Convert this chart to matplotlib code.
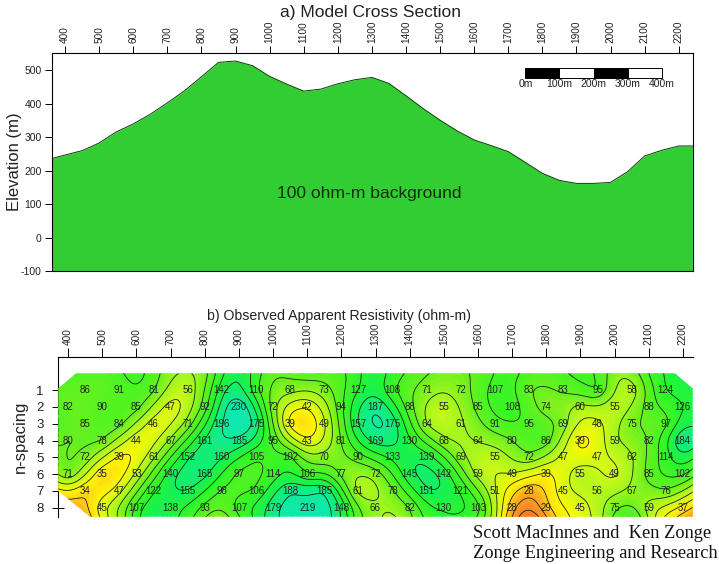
import numpy as np
import matplotlib
matplotlib.use('Agg')
import matplotlib.pyplot as plt
from matplotlib.colors import LinearSegmentedColormap
from matplotlib.patches import Polygon

plt.rcParams['font.family'] = ['Liberation Sans', 'DejaVu Sans']

W, H = 719, 564

# elevation profile
profile_x = [360, 400, 450, 500, 550, 600, 650, 700, 750, 800, 850, 900, 950, 1000, 1050, 1100, 1150,
             1200, 1250, 1300, 1350, 1400, 1450, 1500, 1550, 1600, 1650, 1700, 1750, 1800, 1850, 1900,
             1950, 2000, 2050, 2100, 2150, 2200, 2240]
profile_z = [236, 247, 260, 283, 316, 340, 369, 403, 439, 481, 524, 528, 514, 482, 459, 438, 444,
             460, 472, 479, 461, 424, 386, 351, 319, 292, 275, 257, 225, 192, 171, 162,
             162, 165, 197, 244, 261, 274, 274]

scale_edges = [0, 100, 200, 300, 400]
scale_labels = ['0m', '100m', '200m', '300m', '400m']

station_ticks = list(range(400, 2300, 100))
elev_ticks = [-100, 0, 100, 200, 300, 400, 500]
n_ticks = [1, 2, 3, 4, 5, 6, 7, 8]

# stations of the staggered pseudosection rows
x_even = list(range(400, 2250, 100))
x_odd = list(range(450, 2200, 100))

n1 = [86, 91, 81, 56, 142, 110, 68, 73, 127, 108, 71, 72, 107, 83, 83, 95, 58, 124]
n2 = [82, 90, 85, 47, 92, 230, 72, 42, 94, 187, 88, 55, 85, 108, 74, 60, 55, 88, 126]
n3 = [85, 84, 46, 71, 196, 175, 39, 49, 157, 175, 64, 61, 91, 95, 69, 48, 75, 97]
n4 = [80, 78, 44, 67, 161, 185, 95, 43, 81, 169, 130, 68, 64, 80, 86, 39, 59, 82, 184]
n5 = [72, 39, 61, 152, 160, 105, 102, 70, 90, 133, 139, 69, 55, 72, 47, 47, 62, 114]
n6 = [71, 35, 53, 140, 165, 97, 114, 106, 77, 72, 145, 142, 59, 49, 39, 55, 49, 85, 102]
n7 = [34, 47, 122, 155, 98, 106, 188, 185, 61, 78, 151, 121, 51, 28, 45, 56, 67, 76]
n8 = [45, 107, 138, 93, 107, 179, 219, 148, 66, 82, 130, 103, 28, 29, 45, 75, 59, 37]

# values past the labelled points, estimated from the colours at the section edges
top_edge = [95, 90, 105, 68, 75, 150, 85, 90, 95, 140, 95, 75, 85, 105, 90, 105, 70, 100, 140]
bottom_edge = [26, 65, 160, 105, 65, 130, 220, 220, 90, 60, 100, 110, 50, 15, 35, 55, 110, 35]
side_x = [350, 350, 350, 350, 350, 400, 350, 2250, 2250, 2250, 2250, 2250, 2250]
side_n = [0, 1, 3, 5, 7, 8, 9, 0, 1, 3, 5, 7, 9]
side_v = [100, 90, 100, 70, 35, 28, 25, 140, 140, 150, 115, 45, 20]

levels = [20, 25, 32, 40, 50, 63, 80, 100, 126, 158, 200, 251]
color_values = [15, 20, 28, 34, 40, 50, 63, 80, 100, 126, 158, 200, 251, 320]
color_list = ['#f06e1e', '#f58228', '#ffaa1e', '#ffe10f', '#fafa00', '#cdf819', '#a0f51e', '#69f01e',
              '#46f523', '#28f52d', '#14f05a', '#0feb96', '#0fe6b9', '#00e6d2']


def px_axes(left, top, right, bottom):
    return fig.add_axes([left / W, 1 - bottom / H, (right - left) / W, (bottom - top) / H])


def tps_kernel(r2):
    return 0.5 * r2 * np.log(r2 + 1e-12)


fig = plt.figure(figsize=(W / 100, H / 100), dpi=100)

# a) model
ax = px_axes(51.5, 53, 692.7, 271)
ax.fill_between(profile_x, profile_z, -100, color='#32cd32', lw=0)
ax.plot(profile_x, profile_z, color='#0a3a0a', lw=0.7)
ax.set_xlim(360, 2241)
ax.set_ylim(-100, 552)
ax.xaxis.tick_top()
ax.set_xticks(station_ticks)
ax.set_xticklabels(station_ticks, rotation=90, fontsize=7.2, color='#222222')
ax.set_yticks(elev_ticks)
ax.set_yticklabels(elev_ticks, fontsize=7.5, color='#222222')
ax.tick_params(axis='both', length=5, width=0.7, pad=2)
ax.set_ylabel('Elevation (m)', fontsize=12, labelpad=-1, color='#222222')
ax.text(1292, 132, '100 ohm-m background', fontsize=12.6, color='#0a300a', ha='center', va='center')
fig.text(371 / W, 1 - 12 / H, 'a) Model Cross Section', fontsize=12.5, ha='center', va='center', color='#222222')

for i in range(len(scale_edges) - 1):
    ax.bar(1750 + scale_edges[i], 29, width=scale_edges[i + 1] - scale_edges[i], bottom=478, align='edge',
           color='black' if i % 2 == 0 else 'white', edgecolor='black', lw=0.7)
for v, lab in zip(scale_edges, scale_labels):
    ax.text(1750 + v, 458, lab, fontsize=7.5, ha='center', va='center', color='#222222')

# b) observed
ax2 = px_axes(58.3, 357.3, 692.7, 516.7)
xs, ns, vals = [], [], []
rows = [(0, x_even, top_edge), (1, x_odd, n1), (2, x_even, n2), (3, x_odd, n3), (4, x_even, n4),
        (5, x_odd, n5), (6, x_even, n6), (7, x_odd, n7), (8, x_even[1:], n8), (9, x_odd, bottom_edge)]
for n, row_x, row_v in rows:
    xs += row_x
    ns += [n] * len(row_x)
    vals += row_v
xs += side_x
ns += side_n
vals += side_v

# thin plate spline on log resistivity, 100 m counted as 2 n-spacings
px = np.array(xs, dtype=float) / 50
py = np.array(ns, dtype=float)
pv = np.log10(np.array(vals, dtype=float))
k = len(px)
K = tps_kernel((px[:, None] - px[None, :]) ** 2 + (py[:, None] - py[None, :]) ** 2)
P = np.column_stack([np.ones(k), px, py])
A = np.block([[K + 0.02 * np.eye(k), P], [P.T, np.zeros((3, 3))]])
coef = np.linalg.solve(A, np.concatenate([pv, np.zeros(3)]))

gx = np.linspace(360, 2240, 500)
gy = np.linspace(0, 8.6, 150)
GX, GY = np.meshgrid(gx, gy)
d2 = (GX.ravel()[:, None] / 50 - px) ** 2 + (GY.ravel()[:, None] - py) ** 2
grid = tps_kernel(d2) @ coef[:k] + coef[k] + coef[k + 1] * GX.ravel() / 50 + coef[k + 2] * GY.ravel()
grid = grid.reshape(GX.shape)

log_color = np.log10(color_values)
stops = (log_color - log_color[0]) / (log_color[-1] - log_color[0])
cmap = LinearSegmentedColormap.from_list('res', list(zip(stops, color_list)))
filled = ax2.contourf(GX, GY, grid, levels=np.linspace(log_color[0], log_color[-1], 70), cmap=cmap,
                      extend='both', zorder=3)
lines = ax2.contour(GX, GY, grid, levels=np.log10(levels), colors='#142414', linewidths=0.6, zorder=4)

ax2.set_xlim(371, 2229)
ax2.set_ylim(8.53, -0.95)
hull = Polygon([(371, 0.9), (423, 0), (2177, 0), (2229, 0.9), (2229, 8.53), (464, 8.53), (371, 7.0)],
               transform=ax2.transData, fc='none', ec='none')
ax2.add_patch(hull)
filled.set_clip_path(hull)
lines.set_clip_path(hull)

for n, row_x, row_v in rows[1:9]:
    for x, v in zip(row_x, row_v):
        ax2.text(x, n, str(v), fontsize=7, ha='center', va='center', color='#222222', zorder=5)

ax2.xaxis.tick_top()
ax2.set_xticks(station_ticks)
ax2.set_xticklabels(station_ticks, rotation=90, fontsize=7.2, color='#222222')
ax2.set_yticks(n_ticks)
ax2.set_yticklabels(n_ticks, fontsize=9.5, color='#222222')
ax2.tick_params(axis='x', length=6.5, width=0.7, pad=2)
ax2.tick_params(axis='y', direction='inout', length=9, width=0.7, pad=6)
ax2.spines['right'].set_visible(False)
ax2.spines['bottom'].set_visible(False)
ax2.set_ylabel('n-spacing', fontsize=12, labelpad=6, color='#222222')
fig.text(339 / W, 1 - 316 / H, 'b) Observed Apparent Resistivity (ohm-m)', fontsize=10.2, ha='center',
         va='center', color='#222222')

fig.text(473 / W, 1 - 533 / H, 'Scott MacInnes and  Ken Zonge', family='Liberation Serif', fontsize=13.2,
         ha='left', va='center', color='#111111')
fig.text(473 / W, 1 - 553 / H, 'Zonge Engineering and Research', family='Liberation Serif', fontsize=13.2,
         ha='left', va='center', color='#111111')

fig.savefig('out.png', dpi=100)
